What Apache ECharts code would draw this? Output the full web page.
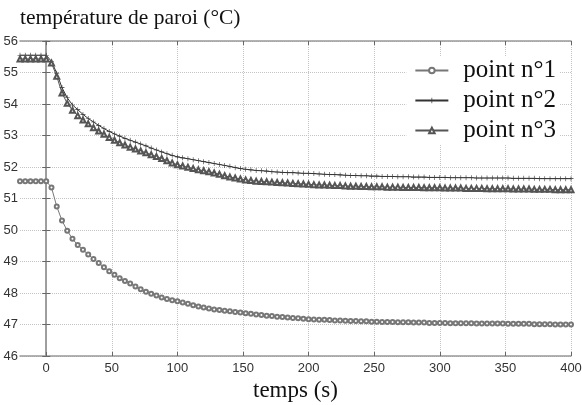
<!DOCTYPE html>
<html>
<head>
<meta charset="utf-8">
<script src="https://cdn.jsdelivr.net/npm/echarts@6/dist/echarts.min.js"></script>
<style>
  html, body { margin: 0; padding: 0; background: #fff; }
  #chart { width: 582px; height: 405px; }
</style>
</head>
<body>
<div id="chart"></div>
<script>
// temps (s), un relevé toutes les 4 s
const temps = [
  -20, -16, -12, -8, -4, 0, 4, 8, 12, 16, 20, 24, 28, 32, 36, 40, 44, 48, 52, 56,
  60, 64, 68, 72, 76, 80, 84, 88, 92, 96, 100, 104, 108, 112, 116, 120, 124, 128, 132, 136,
  140, 144, 148, 152, 156, 160, 164, 168, 172, 176, 180, 184, 188, 192, 196, 200, 204, 208, 212, 216,
  220, 224, 228, 232, 236, 240, 244, 248, 252, 256, 260, 264, 268, 272, 276, 280, 284, 288, 292, 296,
  300, 304, 308, 312, 316, 320, 324, 328, 332, 336, 340, 344, 348, 352, 356, 360, 364, 368, 372, 376,
  380, 384, 388, 392, 396, 400
]

const point1 = [
  51.55, 51.55, 51.55, 51.55, 51.55, 51.55, 51.35, 50.75, 50.3, 49.98, 49.72, 49.52, 49.37, 49.22, 49.08, 48.95, 48.82, 48.69, 48.58, 48.47,
  48.38, 48.3, 48.21, 48.12, 48.04, 47.98, 47.92, 47.86, 47.81, 47.77, 47.74, 47.7, 47.66, 47.61, 47.57, 47.54, 47.51, 47.48, 47.46, 47.44,
  47.42, 47.4, 47.38, 47.36, 47.34, 47.32, 47.3, 47.28, 47.27, 47.25, 47.24, 47.22, 47.21, 47.2, 47.18, 47.17, 47.16, 47.15, 47.15, 47.14,
  47.13, 47.13, 47.12, 47.11, 47.11, 47.1, 47.1, 47.09, 47.09, 47.08, 47.08, 47.08, 47.07, 47.07, 47.07, 47.06, 47.06, 47.06, 47.05, 47.05,
  47.05, 47.05, 47.04, 47.04, 47.04, 47.04, 47.04, 47.03, 47.03, 47.03, 47.03, 47.03, 47.03, 47.02, 47.02, 47.02, 47.02, 47.02, 47.01, 47.01,
  47.01, 47.01, 47.0, 47.0, 47.0, 47.0
]

const point2 = [
  55.55, 55.55, 55.55, 55.55, 55.55, 55.55, 55.35, 54.98, 54.52, 54.2, 53.97, 53.82, 53.67, 53.54, 53.43, 53.32, 53.22, 53.13, 53.05, 52.98,
  52.91, 52.85, 52.79, 52.73, 52.67, 52.6, 52.54, 52.48, 52.42, 52.37, 52.32, 52.29, 52.26, 52.23, 52.2, 52.17, 52.14, 52.11, 52.08, 52.05,
  52.02, 51.98, 51.95, 51.93, 51.91, 51.89, 51.88, 51.87, 51.85, 51.84, 51.83, 51.82, 51.82, 51.81, 51.8, 51.8, 51.79, 51.78, 51.77, 51.76,
  51.76, 51.75, 51.74, 51.73, 51.73, 51.72, 51.72, 51.71, 51.71, 51.7, 51.7, 51.7, 51.69, 51.69, 51.69, 51.68, 51.68, 51.68, 51.67, 51.67,
  51.67, 51.67, 51.66, 51.66, 51.66, 51.66, 51.66, 51.65, 51.65, 51.65, 51.65, 51.65, 51.65, 51.65, 51.64, 51.64, 51.64, 51.64, 51.64, 51.63,
  51.63, 51.63, 51.63, 51.63, 51.63, 51.63
]

const point3 = [
  55.43, 55.43, 55.43, 55.43, 55.43, 55.43, 55.3, 54.88, 54.35, 54.02, 53.8, 53.63, 53.49, 53.37, 53.25, 53.14, 53.04, 52.94, 52.85, 52.77,
  52.7, 52.63, 52.57, 52.51, 52.45, 52.39, 52.33, 52.27, 52.2, 52.13, 52.07, 52.03, 51.99, 51.95, 51.91, 51.88, 51.85, 51.81, 51.77, 51.72,
  51.68, 51.65, 51.62, 51.59, 51.57, 51.55, 51.54, 51.53, 51.52, 51.51, 51.5, 51.49, 51.48, 51.47, 51.46, 51.45, 51.44, 51.43, 51.43, 51.42,
  51.41, 51.41, 51.4, 51.39, 51.39, 51.38, 51.38, 51.37, 51.37, 51.37, 51.36, 51.36, 51.36, 51.35, 51.35, 51.35, 51.35, 51.34, 51.34, 51.34,
  51.34, 51.33, 51.33, 51.33, 51.33, 51.32, 51.32, 51.32, 51.32, 51.31, 51.31, 51.31, 51.31, 51.31, 51.3, 51.3, 51.3, 51.3, 51.29, 51.29,
  51.29, 51.29, 51.28, 51.28, 51.28, 51.28
]

const seriesNames = ['point n°1', 'point n°2', 'point n°3']
const xTicks = [0, 50, 100, 150, 200, 250, 300, 350, 400]

const plusPath = 'path://M4.4,0h1.2v4.4h4.4v1.2h-4.4v4.4h-1.2v-4.4h-4.4v-1.2h4.4z'

const chart = echarts.init(document.getElementById('chart'), null, { renderer: 'canvas' })

const pairs = (vals) => temps.map((t, i) => [t, vals[i]])

const tickFont = { color: '#333', fontSize: 13, fontFamily: 'Liberation Sans' }
const frameLine = { show: true, lineStyle: { color: '#999', width: 1.5 } }
const gridLine = { show: true, lineStyle: { color: '#c4c4c4', type: 'dotted', width: 1 } }

chart.setOption({
  backgroundColor: '#fff',
  animation: false,
  title: {
    text: 'température de paroi (°C)',
    left: 15,
    top: 2,
    textStyle: { fontFamily: 'Liberation Serif', fontSize: 21.5, fontWeight: 'normal', color: '#111' }
  },
  grid: { left: 20, right: 11, top: 41, bottom: 49, outerBoundsMode: 'none' },
  legend: {
    right: 22,
    top: 56,
    orient: 'vertical',
    itemWidth: 33,
    itemHeight: 7,
    itemGap: 5,
    backgroundColor: '#fff',
    padding: [2, 4, 2, 8],
    textStyle: { fontFamily: 'Liberation Serif', fontSize: 25, color: '#111', padding: [0, 0, 0, 10] },
    data: seriesNames
  },
  xAxis: [
    {
      type: 'value',
      min: -20,
      max: 400,
      name: 'temps (s)',
      nameLocation: 'middle',
      nameGap: 21,
      nameTextStyle: { fontFamily: 'Liberation Serif', fontSize: 23, color: '#111' },
      axisLine: frameLine,
      axisTick: { show: true, inside: true, length: 4, customValues: xTicks, lineStyle: { color: '#666' } },
      axisLabel: { customValues: xTicks, margin: 6, ...tickFont },
      splitLine: gridLine
    },
    {
      type: 'value',
      position: 'top',
      min: -20,
      max: 400,
      axisLine: frameLine,
      axisTick: { show: true, inside: true, length: 4, customValues: xTicks, lineStyle: { color: '#666' } },
      axisLabel: { show: false },
      splitLine: { show: false }
    }
  ],
  yAxis: [
    {
      type: 'value',
      min: 46,
      max: 56,
      interval: 1,
      axisLine: frameLine,
      axisTick: { show: true, inside: true, length: 4, lineStyle: { color: '#666' } },
      axisLabel: { margin: 2, ...tickFont },
      splitLine: gridLine
    },
    {
      type: 'value',
      position: 'right',
      min: 46,
      max: 56,
      interval: 1,
      axisLine: frameLine,
      axisTick: { show: true, inside: true, length: 4, lineStyle: { color: '#666' } },
      axisLabel: { show: false },
      splitLine: { show: false }
    }
  ],
  series: [
    {
      name: seriesNames[0],
      type: 'line',
      data: pairs(point1),
      symbol: 'emptyCircle',
      symbolSize: 4,
      showAllSymbol: true,
      lineStyle: { color: '#777', width: 1 },
      itemStyle: { color: '#777', borderWidth: 1 }
    },
    {
      name: seriesNames[1],
      type: 'line',
      data: pairs(point2),
      symbol: plusPath,
      symbolSize: 5,
      showAllSymbol: true,
      lineStyle: { color: '#333', width: 1 },
      itemStyle: { color: '#333' }
    },
    {
      name: seriesNames[2],
      type: 'line',
      data: pairs(point3),
      symbol: 'emptyTriangle',
      symbolSize: 5,
      showAllSymbol: true,
      lineStyle: { color: '#555', width: 1 },
      itemStyle: { color: '#555', borderWidth: 1 }
    }
  ]
})

window.addEventListener('resize', () => chart.resize())
</script>
</body>
</html>
